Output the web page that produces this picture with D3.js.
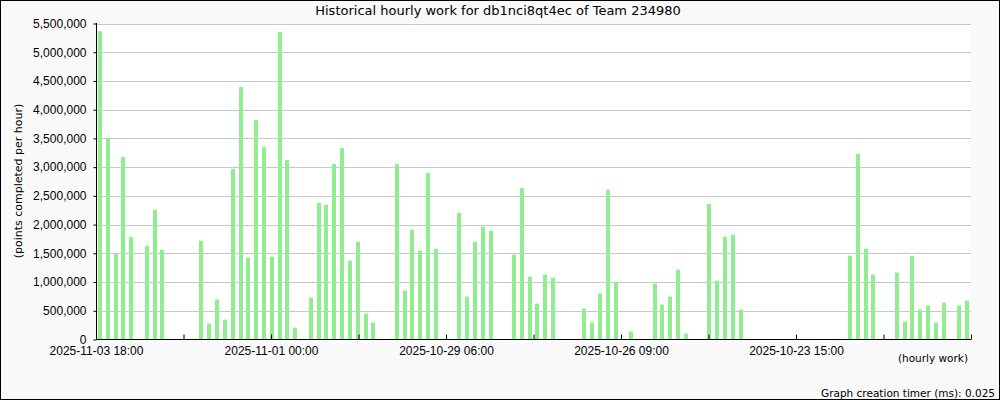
<!DOCTYPE html>
<html>
<head>
<meta charset="utf-8">
<script src="https://cdnjs.cloudflare.com/ajax/libs/d3/7.8.5/d3.min.js"></script>
<style>
  body { margin: 0; background: #fff; }
  svg { display: block; font-family: "DejaVu Sans", sans-serif; }
</style>
</head>
<body>
<div id="chart"></div>
<script>
// Hourly work, newest first (one entry per bar, 0 = no bar)
const workValues = [
  5367000, 3491000, 1488000, 3178000, 1789000, 0, 1633000, 2258000, 1563000, 0,
  0, 0, 0, 1719000, 278000, 695000, 347000, 2970000, 4394000, 1424000,
  3821000, 3352000, 1442000, 5349000, 3126000, 208000, 0, 729000, 2379000, 2345000,
  3057000, 3335000, 1372000, 1702000, 452000, 295000, 0, 0, 3057000, 851000,
  1911000, 1546000, 2901000, 1581000, 0, 0, 2206000, 747000, 1702000, 1963000,
  1893000, 0, 0, 1476000, 2640000, 1094000, 625000, 1129000, 1077000, 0,
  0, 0, 538000, 295000, 799000, 2605000, 1007000, 0, 139000, 0,
  0, 973000, 608000, 747000, 1216000, 104000, 0, 0, 2362000, 1025000,
  1789000, 1824000, 521000, 0, 0, 0, 0, 0, 0, 0,
  0, 0, 0, 0, 0, 0, 1459000, 3231000, 1581000, 1129000,
  0, 0, 1164000, 313000, 1459000, 521000, 591000, 295000, 643000, 0,
  591000, 677000
];

// x-axis ticks (labels on every other tick)
const timeTickLabels = [
  "2025-11-03 18:00", "", "2025-11-01 00:00", "", "2025-10-29 06:00", "",
  "2025-10-26 09:00", "", "2025-10-23 15:00", "", ""
];

const yTicks = [0, 500000, 1000000, 1500000, 2000000, 2500000, 3000000,
  3500000, 4000000, 4500000, 5000000, 5500000];

const W = 1000, H = 400;
const m = { left: 96, right: 29, top: 23, bottom: 61 };

const svg = d3.select('#chart').append('svg')
  .attr('width', W)
  .attr('height', H);

svg.append('rect')
  .attr('x', 0.5).attr('y', 0.5)
  .attr('width', W - 1).attr('height', H - 1)
  .attr('fill', '#f9f9f9')
  .attr('stroke', '#000');

const x = d3.scaleBand()
  .domain(d3.range(workValues.length))
  .range([m.left, W - m.right])
  .paddingInner(0.49)
  .paddingOuter(0.245);

const xTime = d3.scaleLinear()
  .domain([0, timeTickLabels.length - 1])
  .range([m.left, W - m.right]);

const y = d3.scaleLinear()
  .domain([0, 5500000])
  .range([H - m.bottom + 0.5, m.top + 0.5]);

// plot background
svg.append('rect')
  .attr('x', m.left)
  .attr('y', m.top)
  .attr('width', W - m.left - m.right)
  .attr('height', H - m.top - m.bottom)
  .attr('fill', '#fff');

// grid
svg.append('g')
  .selectAll('line')
  .data(yTicks.slice(1))
  .enter()
  .append('line')
  .attr('x1', m.left)
  .attr('x2', W - m.right)
  .attr('y1', d => Math.round(y(d)) + 0.5)
  .attr('y2', d => Math.round(y(d)) + 0.5)
  .attr('stroke', '#c8c8c8');

// bars (skip empty hours)
svg.append('g')
  .selectAll('rect')
  .data(workValues.map((v, i) => ({ v, i })).filter(d => d.v > 0))
  .enter()
  .append('rect')
  .attr('x', d => Math.round(x(d.i)))
  .attr('width', Math.round(x.bandwidth()))
  .attr('y', d => y(d.v))
  .attr('height', d => y(0) - y(d.v))
  .attr('fill', '#90ee90');

// y axis
const yAxis = d3.axisLeft(y)
  .tickValues(yTicks)
  .tickSize(3)
  .tickPadding(7)
  .tickFormat(d3.format(','));

const gy = svg.append('g')
  .attr('transform', `translate(${m.left + 0.5},0)`)
  .call(yAxis);
gy.select('.domain').attr('d', `M0,${m.top}V${H - m.bottom + 1}`);
gy.selectAll('text').style('font-size', '12px').attr('fill', '#000');

// x axis
const xAxis = d3.axisBottom(xTime)
  .tickValues(d3.range(timeTickLabels.length))
  .tickSize(-5)
  .tickPadding(8)
  .tickFormat(i => timeTickLabels[i]);

const gx = svg.append('g')
  .attr('transform', `translate(0,${H - m.bottom + 0.5})`)
  .call(xAxis);
gx.select('.domain').attr('d', `M${m.left},0H${W - m.right}`);
gx.selectAll('text').style('font-size', '12px').attr('fill', '#000').attr('dy', '0.6em');

// titles
svg.append('text')
  .attr('x', 498)
  .attr('y', 15)
  .attr('text-anchor', 'middle')
  .style('font-size', '13px')
  .text('Historical hourly work for db1nci8qt4ec of Team 234980');

svg.append('text')
  .attr('transform', `translate(22,${(m.top + H - m.bottom) / 2}) rotate(-90)`)
  .attr('text-anchor', 'middle')
  .style('font-size', '11px')
  .text('(points completed per hour)');

svg.append('text')
  .attr('x', 968)
  .attr('y', 362)
  .attr('text-anchor', 'end')
  .style('font-size', '10.5px')
  .text('(hourly work)');

svg.append('text')
  .attr('x', 995)
  .attr('y', 397)
  .attr('text-anchor', 'end')
  .style('font-size', '10.5px')
  .text('Graph creation timer (ms): 0.025');
</script>
</body>
</html>
